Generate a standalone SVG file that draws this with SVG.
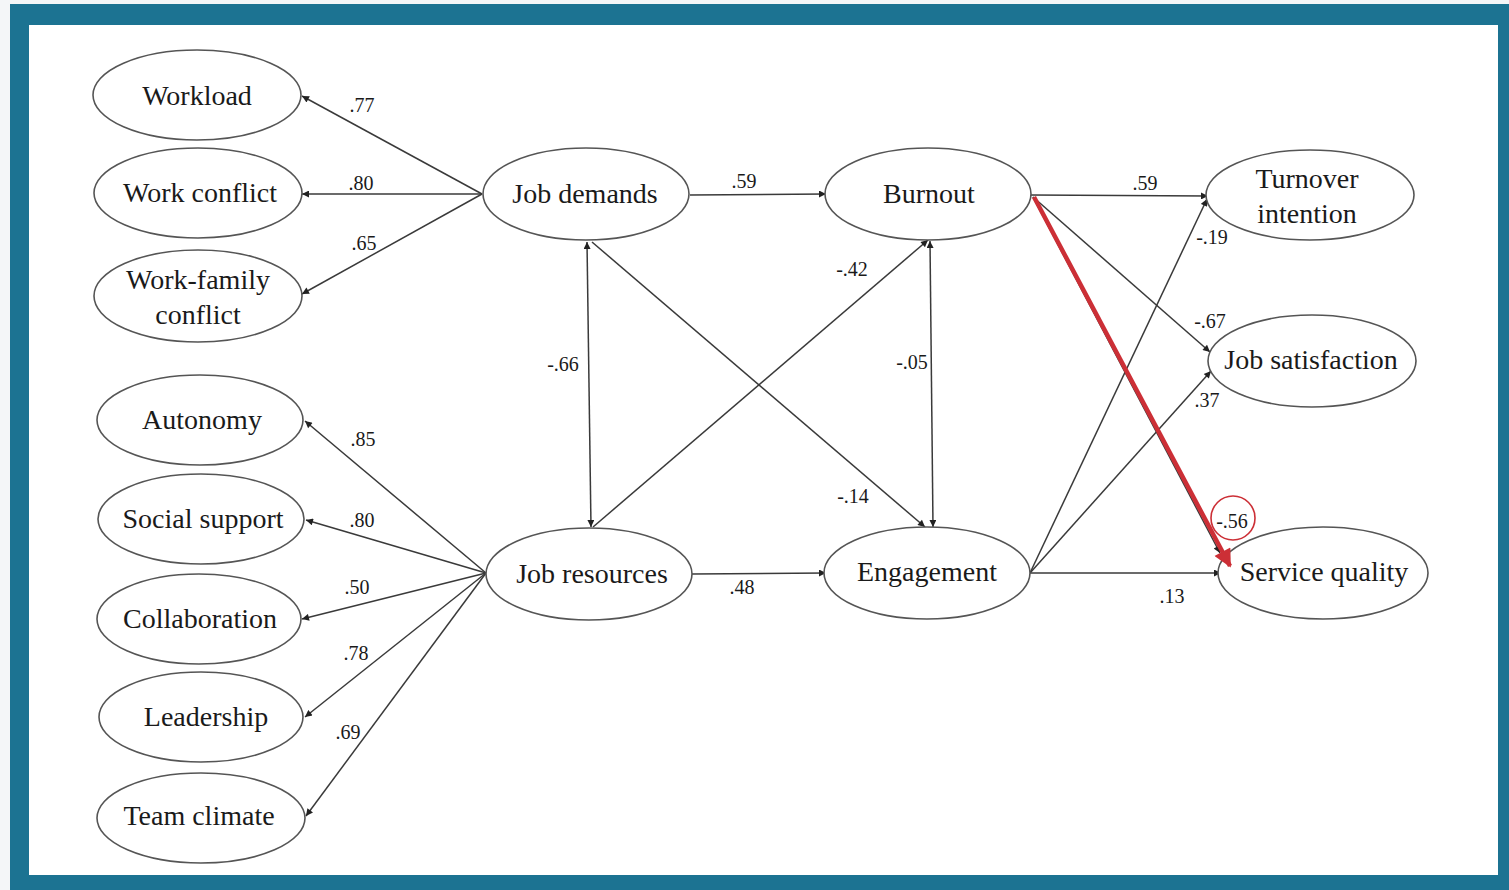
<svg xmlns="http://www.w3.org/2000/svg" width="1509" height="890" viewBox="0 0 1509 890">
<style>
.node ellipse{fill:#fff;stroke:#555;stroke-width:1.6}
.node text{font-family:"Liberation Serif","Times New Roman",serif;font-size:28px;fill:#1a1a1a;text-anchor:middle}
.lbl{font-family:"Liberation Serif","Times New Roman",serif;font-size:20px;fill:#1a1a1a;text-anchor:middle}
.edge{stroke:#3a3a3a;stroke-width:1.5;fill:none;marker-end:url(#ah)}
.dbl{marker-start:url(#ah)}
</style>
<defs>
<marker id="ah" viewBox="0 0 10 10" refX="10" refY="5" markerWidth="9" markerHeight="7" markerUnits="userSpaceOnUse" orient="auto-start-reverse">
<path d="M0,0 L10,5 L0,10 z" fill="#222"/>
</marker>
<marker id="rah" viewBox="0 0 10 10" refX="9" refY="5" markerWidth="24" markerHeight="18" markerUnits="userSpaceOnUse" orient="auto">
<path d="M0,0 L10,5 L0,10 z" fill="#cc2f36"/>
</marker>
</defs>
<rect x="0" y="0" width="1509" height="890" fill="#f4f6f8"/>
<rect x="10" y="4" width="1499" height="886" fill="#1c7392"/>
<rect x="29" y="25" width="1469" height="850" fill="#ffffff"/>

<g id="connectors">
<line class="edge" x1="482" y1="194" x2="302" y2="96"/>
<line class="edge" x1="482" y1="194" x2="302" y2="194"/>
<line class="edge" x1="482" y1="194" x2="302" y2="294"/>
<line class="edge" x1="486" y1="573" x2="305" y2="421"/>
<line class="edge" x1="486" y1="573" x2="306" y2="520"/>
<line class="edge" x1="486" y1="573" x2="302" y2="619"/>
<line class="edge" x1="486" y1="573" x2="305" y2="717"/>
<line class="edge" x1="486" y1="573" x2="306" y2="816"/>
<line class="edge" x1="690" y1="195" x2="826" y2="194"/>
<line class="edge" x1="692" y1="574" x2="826" y2="573"/>
<line class="edge dbl" x1="587" y1="242" x2="591" y2="527"/>
<line class="edge" x1="592" y1="242" x2="925" y2="527"/>
<line class="edge" x1="593" y1="527" x2="928" y2="240"/>
<line class="edge dbl" x1="930" y1="241" x2="933" y2="527"/>
<line class="edge" x1="1031" y1="195" x2="1208" y2="196"/>
<line class="edge" x1="1033" y1="197" x2="1210" y2="352"/>
<line class="edge" x1="1033" y1="197" x2="1220" y2="553"/>
<line class="edge" x1="1030" y1="573" x2="1207" y2="199"/>
<line class="edge" x1="1030" y1="573" x2="1211" y2="371"/>
<line class="edge" x1="1030" y1="573" x2="1221" y2="573"/>
</g>

<g id="labels">
<text class="lbl" x="362" y="112">.77</text>
<text class="lbl" x="361" y="190">.80</text>
<text class="lbl" x="364" y="250">.65</text>
<text class="lbl" x="363" y="446">.85</text>
<text class="lbl" x="362" y="527">.80</text>
<text class="lbl" x="357" y="594">.50</text>
<text class="lbl" x="356" y="660">.78</text>
<text class="lbl" x="348" y="739">.69</text>
<text class="lbl" x="744" y="188">.59</text>
<text class="lbl" x="742" y="594">.48</text>
<text class="lbl" x="563" y="371">-.66</text>
<text class="lbl" x="852" y="276">-.42</text>
<text class="lbl" x="853" y="503">-.14</text>
<text class="lbl" x="912" y="369">-.05</text>
<text class="lbl" x="1145" y="190">.59</text>
<text class="lbl" x="1212" y="244">-.19</text>
<text class="lbl" x="1210" y="328">-.67</text>
<text class="lbl" x="1207" y="407">.37</text>
<text class="lbl" x="1232" y="528">-.56</text>
<text class="lbl" x="1172" y="603">.13</text>
</g>

<g id="workload" class="node"><ellipse cx="197" cy="95" rx="104" ry="45"/><text x="197" y="105">Workload</text></g>
<g id="work-conflict" class="node"><ellipse cx="198" cy="193" rx="104" ry="45"/><text x="200" y="202">Work conflict</text></g>
<g id="work-family-conflict" class="node"><ellipse cx="198" cy="296" rx="104" ry="46"/><text x="198" y="289">Work-family</text><text x="198" y="324">conflict</text></g>
<g id="autonomy" class="node"><ellipse cx="200" cy="420" rx="103" ry="45"/><text x="202" y="429">Autonomy</text></g>
<g id="social-support" class="node"><ellipse cx="201" cy="519" rx="103" ry="45"/><text x="203" y="528">Social support</text></g>
<g id="collaboration" class="node"><ellipse cx="199" cy="619" rx="102" ry="45"/><text x="200" y="628">Collaboration</text></g>
<g id="leadership" class="node"><ellipse cx="201" cy="717" rx="102" ry="45"/><text x="206" y="726">Leadership</text></g>
<g id="team-climate" class="node"><ellipse cx="201" cy="818" rx="104" ry="45"/><text x="199" y="825">Team climate</text></g>
<g id="job-demands" class="node"><ellipse cx="586" cy="194" rx="103" ry="46"/><text x="585" y="203">Job demands</text></g>
<g id="job-resources" class="node"><ellipse cx="589" cy="574" rx="103" ry="46"/><text x="592" y="583">Job resources</text></g>
<g id="burnout" class="node"><ellipse cx="928" cy="194" rx="103" ry="46"/><text x="929" y="203">Burnout</text></g>
<g id="engagement" class="node"><ellipse cx="927" cy="573" rx="103" ry="46"/><text x="927" y="581">Engagement</text></g>
<g id="turnover-intention" class="node"><ellipse cx="1310" cy="195" rx="104" ry="45"/><text x="1307" y="188">Turnover</text><text x="1307" y="223">intention</text></g>
<g id="job-satisfaction" class="node"><ellipse cx="1312" cy="361" rx="104" ry="46"/><text x="1311" y="369">Job satisfaction</text></g>
<g id="service-quality" class="node"><ellipse cx="1323" cy="573" rx="105" ry="46"/><text x="1324" y="581">Service quality</text></g>

<g id="highlight">
<line x1="1034" y1="197" x2="1230" y2="566" stroke="#cc2f36" stroke-width="4.5" marker-end="url(#rah)"/>
<circle cx="1233" cy="518" r="22" fill="none" stroke="#cc2f36" stroke-width="1.6"/>
</g>
</svg>
